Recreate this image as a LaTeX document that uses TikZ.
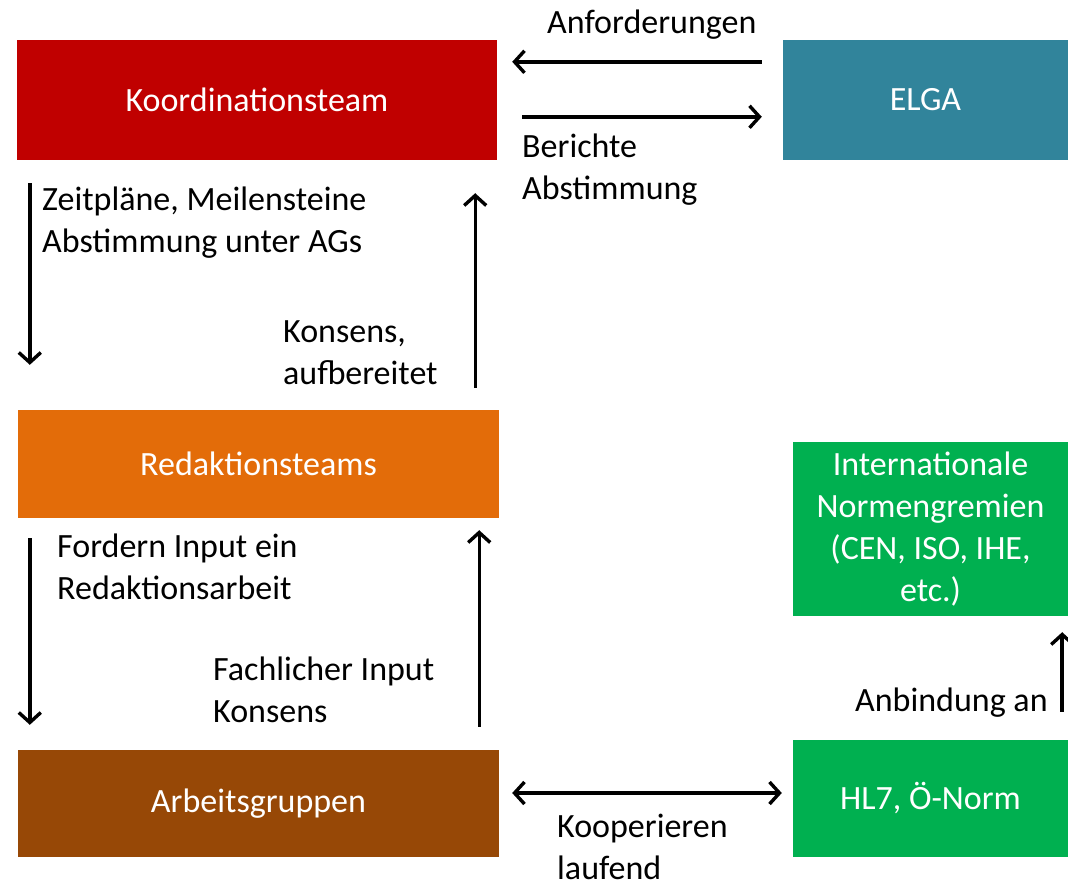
\documentclass[tikz,border=0pt]{standalone}
\usepackage{fontspec}
\setmainfont{Carlito}
\usetikzlibrary{arrows.meta,positioning}
\definecolor{koordred}{HTML}{C00000}
\definecolor{elgablue}{HTML}{31849B}
\definecolor{redakorange}{HTML}{E36C09}
\definecolor{agbrown}{HTML}{974806}
\definecolor{normgreen}{HTML}{00B050}
\tikzset{%
  team/.style={rectangle,inner sep=0pt,text=white,align=center,
    font=\fontsize{34}{42}\selectfont},
  lbl/.style={anchor=base west,inner sep=0pt,align=left,
    font=\fontsize{34}{42}\selectfont},
  flow/.style={line width=3.4pt,
    -{Straight Barb[length=10pt,width=22pt,line width=3.4pt]}},
  twoway/.style={line width=3.4pt,
    {Straight Barb[length=10pt,width=22pt,line width=3.4pt]}-{Straight Barb[length=10pt,width=22pt,line width=3.4pt]}}
}
\begin{document}
\begin{tikzpicture}[x=1pt,y=-1pt]
  \useasboundingbox (0,0) rectangle (1068,886);

  % boxes
  \node [team,fill=koordred,minimum width=480pt,minimum height=120pt] (koord) at (257,100) {Koordinationsteam};
  \node [team,fill=elgablue,minimum width=285pt,minimum height=120pt] (elga) at (925.5,100) {ELGA};
  \node [team,fill=redakorange,minimum width=481pt,minimum height=108pt] (redak) at (258.5,464) {Redaktionsteams};
  \node [team,fill=agbrown,minimum width=481pt,minimum height=107pt] (ag) at (258.5,803.5) {Arbeitsgruppen};
  \node [team,fill=normgreen,minimum width=275pt,minimum height=174pt] (intl) at (930.5,529)
    {Internationale\\Normengremien\\(CEN, ISO, IHE,\\etc.)};
  \node [team,fill=normgreen,minimum width=275pt,minimum height=117pt] (hl7) at (930.5,798.5) {HL7, Ö-Norm};

  % connectors
  \draw [flow,shorten <=21pt,shorten >=15pt] ([yshift=-22pt]elga.north west) -- ([yshift=-22pt]koord.north east);
  \draw [flow,shorten <=25pt,shorten >=21pt] ([yshift=-77pt]koord.north east) -- ([yshift=-77pt]elga.north west);
  \draw [flow,shorten <=23pt,shorten >=45pt] ([xshift=13pt]koord.south west) -- ([xshift=12pt]redak.north west);
  \draw [flow,shorten <=22pt,shorten >=33pt] ([xshift=-24pt]redak.north east) -- ([xshift=-22pt]koord.south east);
  \draw [flow,shorten <=20pt,shorten >=25pt] ([xshift=12pt]redak.south west) -- ([xshift=12pt]ag.north west);
  \draw [flow,shorten <=23pt,shorten >=12pt] ([xshift=-20pt]ag.north east) -- ([xshift=-20pt]redak.south east);
  \draw [twoway,shorten <=13pt,shorten >=11pt] ([yshift=10.5pt]ag.east) -- ([yshift=5.5pt]hl7.west);
  \draw [flow,line width=4.2pt,shorten <=28pt,shorten >=16pt] ([xshift=-6pt]hl7.north east) -- ([xshift=-6pt]intl.south east);

  % labels
  \node [lbl] (anf) at (547,33) {Anforderungen};
  \node [lbl] (ber) at (522,199) {Berichte\\Abstimmung};
  \node [lbl] (zeit) at (42,252) {Zeitpläne, Meilensteine\\Abstimmung unter AGs};
  \node [lbl] (kons) at (283,384) {Konsens,\\aufbereitet};
  \node [lbl] (ford) at (57,599) {Fordern Input ein\\Redaktionsarbeit};
  \node [lbl] (fach) at (213,722) {Fachlicher Input\\Konsens};
  \node [lbl] (koop) at (557,879) {Kooperieren\\laufend};
  \node [lbl] (anb) at (855,711) {Anbindung an};
\end{tikzpicture}
\end{document}
